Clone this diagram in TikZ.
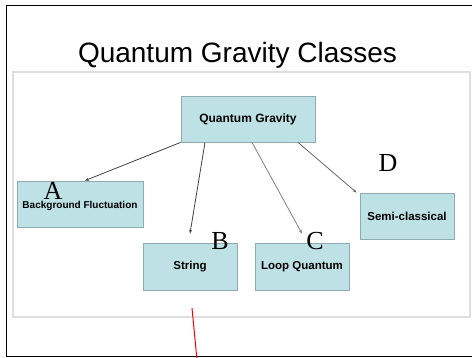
\documentclass[tikz,border=0pt]{standalone}
\usepackage{fontspec}
\setmainfont{Liberation Sans}
\newfontfamily\letterfont{Liberation Serif}
\usetikzlibrary{arrows.meta, positioning}
\definecolor{boxcyan}{RGB}{189, 225, 229}
\definecolor{boxedge}{RGB}{140, 172, 177}
\definecolor{framegray}{RGB}{222, 222, 222}

\begin{document}
\begin{tikzpicture}[
  x=1pt, y=-1pt,
  qbox/.style={draw=boxedge, fill=boxcyan, line width=0.8pt, inner sep=0pt, minimum width=94pt, minimum height=46pt, font=\fontsize{11.5}{13}\selectfont\bfseries},
  tag/.style={font=\letterfont\fontsize{26}{28}\selectfont, inner sep=0pt},
  link/.style={line width=0.8pt, -{Stealth[length=4pt, width=3pt]}}
]
  \useasboundingbox (0,0) rectangle (472,358);
  % frames
  \draw[line width=1.3pt] (6.5,5.7) rectangle (476,356.7);
  \draw[framegray, line width=1.2pt] (13,72) rectangle (470,317);
  \node[anchor=base, inner sep=0pt, font=\fontsize{28}{30}\selectfont] (title) at (237.5,63) {Quantum Gravity Classes};

  % boxes
  \node[qbox, minimum width=134pt, font=\fontsize{12}{14}\selectfont\bfseries] (qg) at (248,119) {Quantum Gravity};
  \node[qbox, minimum width=126pt, text height=12pt, text depth=2pt, font=\fontsize{10}{12}\selectfont\bfseries] (bf) at (80,204) {Background Fluctuation};
  \node[qbox] (semi) at (407,216) {Semi-classical};
  \node[qbox, minimum height=47pt] (string) at (190,266.5) {String};
  \node[qbox, minimum height=47pt] (loop) at (302,266.5) {Loop Quantum};

  % letters
  \node[tag] (ta) at (53,191) {A};
  \node[tag] (tb) at (220,241) {B};
  \node[tag] (tc) at (315,241) {C};
  \node[tag] (td) at (388,163) {D};

  % arrows
  \draw[link, black!75] (qg.south west) -- ([xshift=5pt]bf.north);
  \draw[link, black!75] ([xshift=-43pt]qg.south) -- ([yshift=9pt]string.north);
  \draw[link, black!50] ([xshift=4pt]qg.south) -- ([yshift=9pt]loop.north);
  \draw[link, black!60] ([xshift=50pt]qg.south) -- ([xshift=-3pt]semi.north west);

  % red stroke
  \coordinate (redtop) at (192,308);
  \coordinate (redend) at (197,360);
  \draw[red, line width=1pt] (redtop) -- (redend);
\end{tikzpicture}
\end{document}
